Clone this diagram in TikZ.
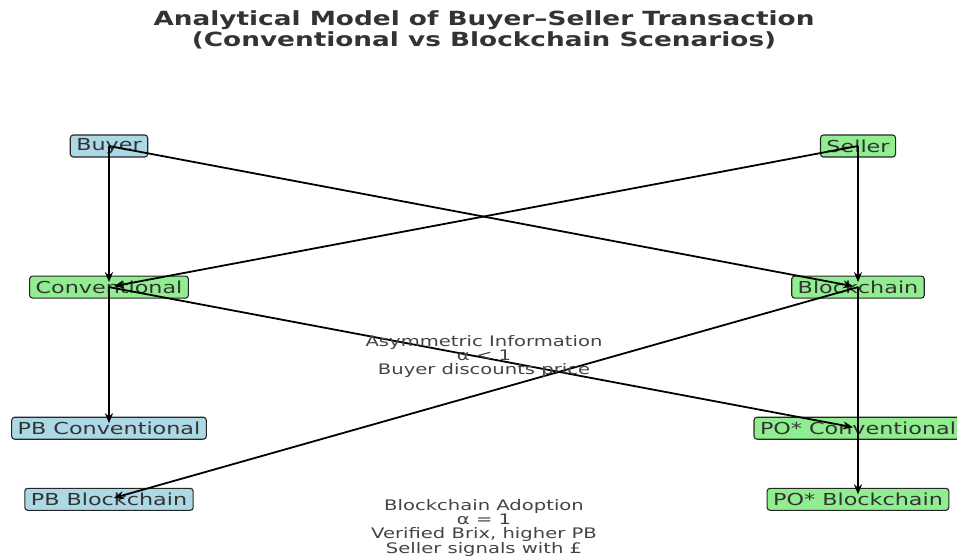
\documentclass[tikz,border=0pt]{standalone}
\usepackage{fontspec}
\setmainfont{DejaVu Sans}[FakeStretch=1.35]
\usetikzlibrary{positioning,arrows.meta}
\definecolor{boxblue}{HTML}{ADD8E6}
\definecolor{boxgreen}{HTML}{90EE90}
\definecolor{txtgray}{HTML}{333333}
\definecolor{lblgray}{HTML}{444444}

\begin{document}
\begin{tikzpicture}[
        x=1pt, y=-1pt,
        >={Stealth[length=10pt,width=8pt]},
        box/.style={draw=black!85, line width=1.1pt, rounded corners=3pt, minimum height=22pt,
                    inner xsep=6pt, inner ysep=0pt, text=txtgray, font=\fontsize{16.5}{18}\selectfont},
        buy/.style={box, fill=boxblue},
        sel/.style={box, fill=boxgreen},
        lbl/.style={align=center, text=lblgray, font=\fontsize{14.5}{14}\selectfont},
        flow/.style={->, line width=1.8pt, shorten >=5pt},
        node distance=118pt
    ]
        \useasboundingbox (0,0) rectangle (957,555);

        \node[font=\bfseries\fontsize{19.5}{21}\selectfont, text=txtgray, align=center] (title) at (484,30)
            {Analytical Model of Buyer–Seller Transaction\\(Conventional vs Blockchain Scenarios)};

        \node[buy] (buyer)  at (109,146) {Buyer};
        \node[sel] (seller) at (858,146) {Seller};
        \node[sel, below=of buyer]  (conv)  {Conventional};
        \node[sel, below=of seller] (chain) {Blockchain};
        \node[buy, below=of conv]   (pbconv)  {PB Conventional};
        \node[sel, below=of chain]  (poconv)  {PO* Conventional};
        \node[buy, below=48pt of pbconv] (pbchain) {PB Blockchain};
        \node[sel, below=48pt of poconv] (pochain) {PO* Blockchain};

        % choix du scenario
        \draw[flow] (buyer.center)  -- (conv.center);
        \draw[flow] (buyer.center)  -- (chain.center);
        \draw[flow] (seller.center) -- (conv.center);
        \draw[flow] (seller.center) -- (chain.center);

        % prix obtenus
        \draw[flow] (conv.center)  -- (pbconv.center);
        \draw[flow] (conv.center)  -- (poconv.center);
        \draw[flow] (chain.center) -- (pbchain.center);
        \draw[flow] (chain.center) -- (pochain.center);

        \node[lbl] (asym) at (484,356) {Asymmetric Information\\α < 1\\Buyer discounts price};
        \node[lbl] (adopt) at (484,528) {Blockchain Adoption\\α = 1\\Verified Brix, higher PB\\Seller signals with £};
    \end{tikzpicture}
\end{document}
